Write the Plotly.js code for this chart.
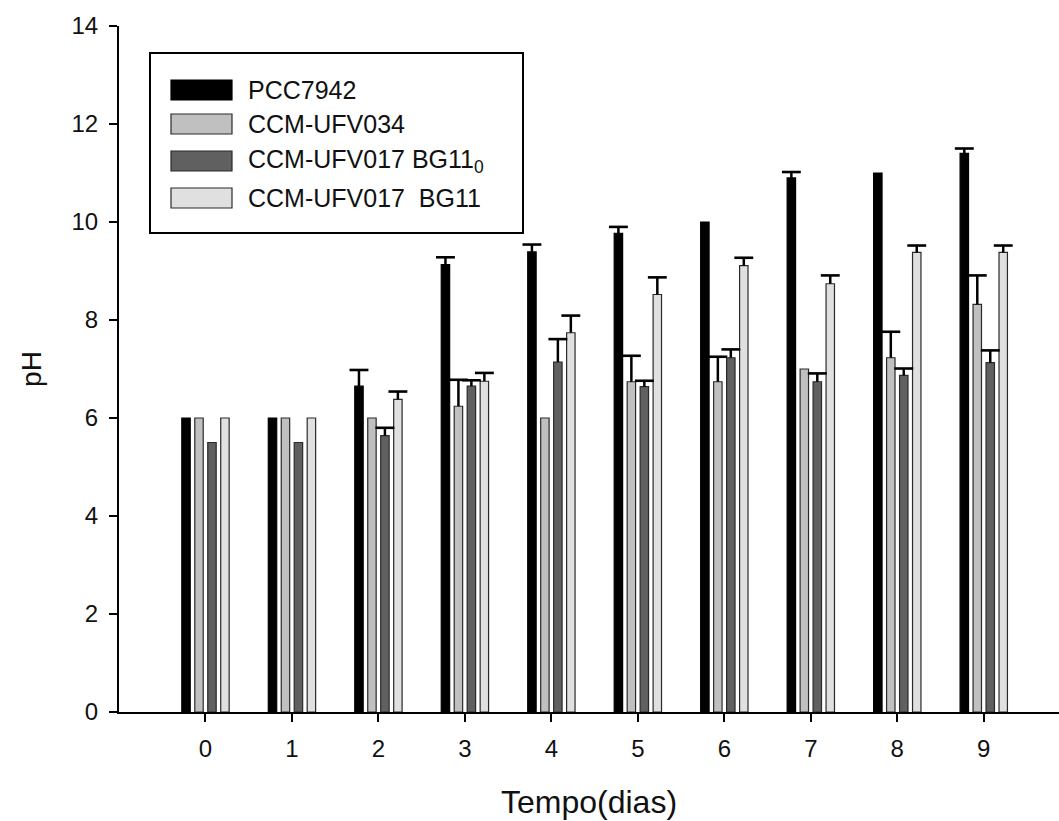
<!DOCTYPE html>
<html>
<head>
<meta charset="utf-8">
<script src="https://cdn.plot.ly/plotly-3.0.1.min.js"></script>
<style>html,body{margin:0;padding:0;background:#fff;}#chart{width:1059px;height:821px;}</style>
</head>
<body>
<div id="chart"></div>
<script>
// ---- data ----
const days = [0, 1, 2, 3, 4, 5, 6, 7, 8, 9];
const dayLabels = ['0', '1', '2', '3', '4', '5', '6', '7', '8', '9'];
const seriesNames = ['PCC7942', 'CCM-UFV034', 'CCM-UFV017 BG11<sub>0</sub>', 'CCM-UFV017  BG11'];
const pcc7942 = [6.0, 6.0, 6.65, 9.13, 9.39, 9.77, 10.0, 10.9, 11.0, 11.4];
const pcc7942Err = [NaN, NaN, 0.33, 0.15, 0.15, 0.13, NaN, 0.12, NaN, 0.10];
const ufv034 = [6.0, 6.0, 6.0, 6.24, 6.0, 6.74, 6.74, 7.0, 7.23, 8.32];
const ufv034Err = [NaN, NaN, NaN, 0.54, NaN, 0.53, 0.51, NaN, 0.53, 0.59];
const ufv017bg110 = [5.5, 5.5, 5.64, 6.65, 7.14, 6.64, 7.23, 6.74, 6.87, 7.13];
const ufv017bg110Err = [NaN, NaN, 0.16, 0.12, 0.47, 0.12, 0.17, 0.17, 0.14, 0.25];
const ufv017bg11 = [6.0, 6.0, 6.38, 6.75, 7.74, 8.52, 9.11, 8.74, 9.38, 9.38];
const ufv017bg11Err = [NaN, NaN, 0.16, 0.17, 0.35, 0.35, 0.16, 0.17, 0.14, 0.14];
const yTicks = [0, 2, 4, 6, 8, 10, 12, 14];

// ---- styles ----
const fills = ['#000000', '#c0c0c0', '#606060', '#e0e0e0'];
const outlines = ['#000000', '#2a2a2a', '#2a2a2a', '#2a2a2a'];
const values = [pcc7942, ufv034, ufv017bg110, ufv017bg11];
const errs = [pcc7942Err, ufv034Err, ufv017bg110Err, ufv017bg11Err];
const FONT = 'Liberation Sans, Arial, sans-serif';
const GAP = 0.40;

// bars with an upward-only error stem (no hat / shoe)
const barTraces = values.map((v, i) => ({
  type: 'bar',
  x: days,
  y: v,
  name: seriesNames[i],
  marker: {color: fills[i], line: {color: outlines[i], width: 1.2}},
  error_y: {
    type: 'data',
    symmetric: false,
    array: errs[i],
    arrayminus: errs[i].map(e => isNaN(e) ? NaN : 0),
    color: '#000000',
    thickness: 2.5,
    width: 0,
    visible: true
  },
  showlegend: false,
  hoverinfo: 'x+y'
}));

// caps at the top of each error stem (grouped like the bars)
const capTraces = values.map((v, i) => ({
  type: 'scatter',
  mode: 'markers',
  x: days,
  y: v.map((val, k) => val + errs[i][k]),
  marker: {symbol: 'line-ew', size: 13.5, color: '#000', line: {color: '#000', width: 2.6}},
  showlegend: false,
  hoverinfo: 'skip',
  cliponaxis: false
}));

// plot-area geometry in pixels (for the hand-drawn legend box)
const L = 119, T = 26, W = 940, H = 686;
const px = x => (x - L) / W;
const py = y => (T + H - y) / H;

const shapes = [{
  type: 'rect', xref: 'paper', yref: 'paper',
  x0: px(150), x1: px(523), y0: py(233), y1: py(53),
  line: {color: '#000', width: 2}, fillcolor: '#fff', layer: 'above'
}];
const annotations = [];
const rowCenters = [90, 124, 161, 198];
seriesNames.forEach((n, i) => {
  shapes.push({
    type: 'rect', xref: 'paper', yref: 'paper',
    x0: px(171), x1: px(232), y0: py(rowCenters[i] + 10), y1: py(rowCenters[i] - 10),
    fillcolor: fills[i], line: {color: outlines[i], width: 1.2}, layer: 'above'
  });
  annotations.push({
    xref: 'paper', yref: 'paper', x: px(246), y: py(rowCenters[i]),
    xanchor: 'left', yanchor: 'middle', showarrow: false,
    text: n, font: {family: FONT, size: 25, color: '#111'}
  });
});

const layout = {
  width: 1059, height: 821,
  margin: {l: L, r: 0, t: T, b: 821 - T - H, pad: 0},
  paper_bgcolor: '#fff', plot_bgcolor: '#fff',
  barmode: 'group', bargap: GAP, bargroupgap: 0.35,
  scattermode: 'group', scattergap: GAP,
  font: {family: FONT, color: '#111'},
  xaxis: {
    range: [-1, 9.87],
    tickmode: 'array', tickvals: days, ticktext: dayLabels,
    ticks: 'outside', ticklen: 8, tickwidth: 2, tickcolor: '#000',
    showline: true, linecolor: '#000', linewidth: 2,
    showgrid: false, zeroline: false,
    tickfont: {family: FONT, size: 24, color: '#111'},
    ticklabelstandoff: 6,
    title: {text: 'Tempo(dias)', font: {family: FONT, size: 32, color: '#111'}, standoff: 30}
  },
  yaxis: {
    range: [0, 14],
    tickmode: 'array', tickvals: yTicks, ticktext: yTicks.map(String),
    ticks: 'outside', ticklen: 8, tickwidth: 2, tickcolor: '#000',
    showline: true, linecolor: '#000', linewidth: 2,
    showgrid: false, zeroline: false,
    tickfont: {family: FONT, size: 24, color: '#111'},
    ticklabelstandoff: 6,
    title: {text: 'pH', font: {family: FONT, size: 28, color: '#111'}, standoff: 22}
  },
  shapes: shapes,
  annotations: annotations,
  showlegend: false
};

Plotly.newPlot('chart', barTraces.concat(capTraces), layout, {displayModeBar: false, staticPlot: true});
</script>
</body>
</html>
